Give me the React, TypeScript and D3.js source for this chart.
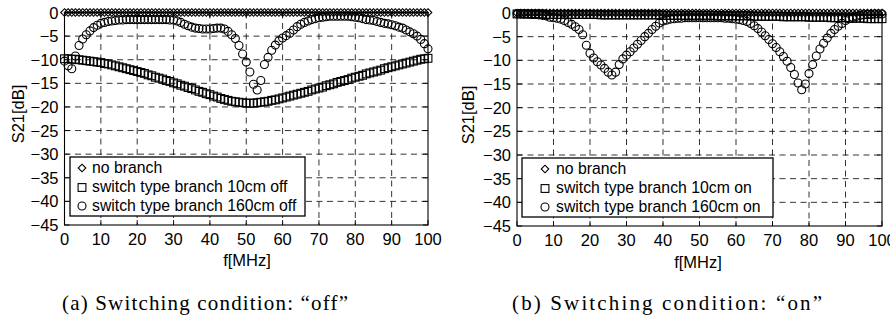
import React from 'react';
import * as d3 from 'd3';

// ---------- data ----------
const FREQ = d3.range(0, 101); // MHz, 1 MHz sampling grid
const X_TICKS = [0, 10, 20, 30, 40, 50, 60, 70, 80, 90, 100];
const Y_TICKS = [0, -5, -10, -15, -20, -25, -30, -35, -40, -45];

// (a) switching condition "off"
const A_NO_BRANCH = [
  0, 0, 0, 0, 0, 0, 0, 0, 0, 0,
  0, 0, 0, 0, 0, 0, 0, 0, 0, 0,
  0, 0, 0, 0, 0, 0, 0, 0, 0, 0,
  0, 0, 0, 0, 0, 0, 0, 0, 0, 0,
  0, 0, 0, 0, 0, 0, 0, 0, 0, 0,
  0, 0, 0, 0, 0, 0, 0, 0, 0, 0,
  0, 0, 0, 0, 0, 0, 0, 0, 0, 0,
  0, 0, 0, 0, 0, 0, 0, 0, 0, 0,
  0, 0, 0, 0, 0, 0, 0, 0, 0, 0,
  0, 0, 0, 0, 0, 0, 0, 0, 0, 0,
  0,
];
const A_10CM_OFF = [
  -9.8, -9.8, -9.9, -9.9, -10.0, -10.1, -10.2, -10.3, -10.4, -10.5,
  -10.6, -10.8, -10.9, -11.1, -11.3, -11.5, -11.7, -11.9, -12.1, -12.3,
  -12.5, -12.7, -12.9, -13.2, -13.4, -13.7, -13.9, -14.1, -14.4, -14.6,
  -14.9, -15.1, -15.4, -15.6, -15.9, -16.1, -16.4, -16.7, -16.9, -17.2,
  -17.4, -17.7, -17.9, -18.2, -18.4, -18.6, -18.8, -18.9, -19.0, -19.1,
  -19.2, -19.2, -19.2, -19.1, -19.0, -18.9, -18.8, -18.6, -18.5, -18.3,
  -18.1, -17.9, -17.7, -17.5, -17.3, -17.1, -16.9, -16.7, -16.4, -16.2,
  -16.0, -15.8, -15.5, -15.3, -15.1, -14.8, -14.6, -14.4, -14.2, -13.9,
  -13.7, -13.5, -13.3, -13.0, -12.8, -12.6, -12.4, -12.2, -11.9, -11.7,
  -11.5, -11.3, -11.1, -10.9, -10.7, -10.5, -10.3, -10.1, -9.9, -9.8,
  -9.7,
];
const A_160CM_OFF = [
  -10.3, -11.3, -11.9, -9.2, -7.0, -5.6, -4.7, -3.9, -3.2, -2.7,
  -2.3, -2.1, -1.9, -1.8, -1.7, -1.6, -1.6, -1.5, -1.5, -1.5,
  -1.5, -1.5, -1.5, -1.5, -1.5, -1.5, -1.5, -1.5, -1.5, -1.6,
  -1.6, -1.8, -2.1, -2.5, -2.8, -3.1, -3.3, -3.4, -3.5, -3.5,
  -3.5, -3.4, -3.3, -3.3, -3.5, -4.0, -4.7, -5.5, -7.0, -8.8,
  -10.5, -12.6, -15.2, -16.4, -14.4, -11.0, -9.5, -8.0, -6.9, -6.0,
  -5.4, -4.9, -4.4, -3.7, -3.0, -2.5, -2.1, -1.8, -1.5, -1.3,
  -1.1, -1.0, -0.9, -0.8, -0.8, -0.8, -0.8, -0.8, -0.8, -0.9,
  -1.0, -1.1, -1.3, -1.5, -1.6, -1.7, -1.9, -2.1, -2.3, -2.4,
  -2.6, -2.8, -3.1, -3.3, -3.7, -4.1, -4.5, -5.0, -5.7, -6.6,
  -7.7,
];

// (b) switching condition "on"
const B_NO_BRANCH = [
  0, 0, 0, 0, 0, 0, 0, 0, 0, 0,
  0, 0, 0, 0, 0, 0, 0, 0, 0, 0,
  0, 0, 0, 0, 0, 0, 0, 0, 0, 0,
  0, 0, 0, 0, 0, 0, 0, 0, 0, 0,
  0, 0, 0, 0, 0, 0, 0, 0, 0, 0,
  0, 0, 0, 0, 0, 0, 0, 0, 0, 0,
  0, 0, 0, 0, 0, 0, 0, 0, 0, 0,
  0, 0, 0, 0, 0, 0, 0, 0, 0, 0,
  0, 0, 0, 0, 0, 0, 0, 0, 0, 0,
  0, 0, 0, 0, 0, 0, 0, 0, 0, 0,
  0,
];
const B_10CM_ON = [
  -0.2, -0.2, -0.2, -0.2, -0.2, -0.2, -0.2, -0.2, -0.3, -0.3,
  -0.3, -0.3, -0.3, -0.3, -0.3, -0.3, -0.3, -0.3, -0.3, -0.3,
  -0.3, -0.3, -0.3, -0.4, -0.4, -0.4, -0.4, -0.4, -0.4, -0.4,
  -0.4, -0.4, -0.4, -0.4, -0.4, -0.4, -0.4, -0.4, -0.4, -0.4,
  -0.5, -0.5, -0.5, -0.5, -0.5, -0.5, -0.5, -0.5, -0.5, -0.5,
  -0.5, -0.5, -0.5, -0.5, -0.5, -0.6, -0.6, -0.6, -0.6, -0.6,
  -0.6, -0.6, -0.6, -0.6, -0.6, -0.7, -0.7, -0.7, -0.7, -0.7,
  -0.7, -0.7, -0.7, -0.8, -0.8, -0.8, -0.8, -0.8, -0.8, -0.8,
  -0.9, -0.9, -0.9, -0.9, -0.9, -0.9, -1.0, -1.0, -1.0, -1.0,
  -1.0, -1.1, -1.1, -1.1, -1.1, -1.1, -1.2, -1.2, -1.2, -1.2,
  -1.2,
];
const B_160CM_ON = [
  -0.1, -0.1, -0.2, -0.2, -0.3, -0.3, -0.4, -0.5, -0.6, -0.9,
  -1.0, -1.1, -1.3, -1.6, -2.0, -2.4, -2.9, -3.5, -4.6, -6.8,
  -8.5, -9.5, -10.3, -11.0, -11.7, -12.5, -13.1, -12.5, -10.9, -9.7,
  -8.9, -8.2, -7.4, -6.6, -5.8, -5.0, -4.3, -3.5, -2.8, -2.1,
  -1.7, -1.5, -1.3, -1.2, -1.1, -1.1, -1.0, -1.0, -1.0, -1.0,
  -1.0, -1.0, -1.0, -1.0, -1.0, -1.0, -1.0, -1.1, -1.1, -1.2,
  -1.3, -1.4, -1.6, -1.8, -2.2, -2.7, -3.3, -4.0, -4.8, -5.6,
  -6.5, -7.3, -8.2, -9.2, -10.2, -11.5, -13.0, -14.8, -16.2, -15.0,
  -12.8, -10.9, -9.1, -7.6, -6.4, -5.3, -4.3, -3.5, -2.8, -2.2,
  -1.6, -1.2, -0.9, -0.7, -0.5, -0.4, -0.3, -0.3, -0.2, -0.2,
  -0.2,
];

const LEGEND_A = ['no branch', 'switch type branch 10cm off', 'switch type branch 160cm off'];
const LEGEND_B = ['no branch', 'switch type branch 10cm on', 'switch type branch 160cm on'];
const CAPTIONS = ['(a) Switching condition: \u201Coff\u201D', '(b) Switching condition: \u201Con\u201D'];
const X_LABEL = 'f[MHz]';
const Y_LABEL = 'S21[dB]';

// ---------- layout ----------
const W = 890;
const H = 316;
const SANS = 'Liberation Sans, Arial, Helvetica, sans-serif';
const SERIF = 'Liberation Serif, Times New Roman, serif';

const PANELS = [
  {
    x0: 64.5, x1: 428, y0: 12.5, y1: 225,
    series: [A_NO_BRANCH, A_10CM_OFF, A_160CM_OFF],
    legend: LEGEND_A, lx: 70, ly: 157, lw: 235, lh: 59, mOff: 12, tOff: 22,
    caption: CAPTIONS[0], capX: 205, capW: 286,
    yLabX: 18, yLabY: 114, xLabX: 247, xLabY: 260,
  },
  {
    x0: 517, x1: 882, y0: 13, y1: 226,
    series: [B_NO_BRANCH, B_10CM_ON, B_160CM_ON],
    legend: LEGEND_B, lx: 522, ly: 158, lw: 251, lh: 59, mOff: 23, tOff: 34,
    caption: CAPTIONS[1], capX: 667, capW: 310,
    yLabX: 468, yLabY: 115, xLabX: 698, xLabY: 262,
  },
];

const SW = 1.1;

function Marker({ kind, x, y }: { kind: number; x: number; y: number }) {
  if (kind === 0) {
    const r = 3.8;
    return (
      <path
        d={`M${x},${y - r}L${x + r},${y}L${x},${y + r}L${x - r},${y}Z`}
        fill="none" stroke="#000" strokeWidth={SW}
      />
    );
  }
  if (kind === 1) {
    const h = 3.9;
    return <rect x={x - h} y={y - h} width={2 * h} height={2 * h} fill="none" stroke="#000" strokeWidth={SW} />;
  }
  return <circle cx={x} cy={y} r={4} fill="none" stroke="#000" strokeWidth={SW} />;
}

function Panel({ p }: { p: (typeof PANELS)[number] }) {
  const x = d3.scaleLinear().domain([0, 100]).range([p.x0, p.x1]);
  const y = d3.scaleLinear().domain([0, -45]).range([p.y0, p.y1]);
  const dash = '6,4.5';
  const tick = 5;
  const rowY = [p.ly + 10, p.ly + 29.5, p.ly + 48];
  return (
    <g>
      {/* grid */}
      {X_TICKS.slice(1, -1).map((t) => (
        <line key={'gx' + t} x1={x(t)} x2={x(t)} y1={p.y0} y2={p.y1} stroke="#000" strokeWidth={0.8} strokeDasharray={dash} />
      ))}
      {Y_TICKS.slice(1, -1).map((t) => (
        <line key={'gy' + t} x1={p.x0} x2={p.x1} y1={y(t)} y2={y(t)} stroke="#000" strokeWidth={0.8} strokeDasharray={dash} />
      ))}
      {/* ticks */}
      {X_TICKS.map((t) => (
        <g key={'tx' + t}>
          <line x1={x(t)} x2={x(t)} y1={p.y1} y2={p.y1 - tick} stroke="#000" strokeWidth={0.9} />
          <line x1={x(t)} x2={x(t)} y1={p.y0} y2={p.y0 + tick} stroke="#000" strokeWidth={0.9} />
        </g>
      ))}
      {Y_TICKS.map((t) => (
        <g key={'ty' + t}>
          <line x1={p.x0} x2={p.x0 + tick} y1={y(t)} y2={y(t)} stroke="#000" strokeWidth={0.9} />
          <line x1={p.x1} x2={p.x1 - tick} y1={y(t)} y2={y(t)} stroke="#000" strokeWidth={0.9} />
        </g>
      ))}
      {/* data */}
      {p.series.map((s, si) => (
        <g key={'s' + si}>
          {s.map((v, i) => (
            <Marker key={i} kind={si} x={x(FREQ[i])} y={y(v)} />
          ))}
        </g>
      ))}
      {/* legend */}
      <rect x={p.lx} y={p.ly} width={p.lw} height={p.lh} fill="#fff" stroke="#000" strokeWidth={1.3} />
      {p.legend.map((lab, i) => (
        <g key={'l' + i}>
          <Marker kind={i} x={p.lx + p.mOff} y={rowY[i] + 1} />
          <text x={p.lx + p.tOff} y={rowY[i]} dominantBaseline="central" fontFamily={SANS} fontSize={15.8} fill="#000">
            {lab}
          </text>
        </g>
      ))}
      {/* box */}
      <rect x={p.x0} y={p.y0} width={p.x1 - p.x0} height={p.y1 - p.y0} fill="none" stroke="#000" strokeWidth={1.1} />
      {/* tick labels */}
      {X_TICKS.map((t) => (
        <text key={'lx' + t} x={x(t)} y={p.y1 + 14} textAnchor="middle" dominantBaseline="central" fontFamily={SANS} fontSize={16.5} fill="#000">
          {t}
        </text>
      ))}
      {Y_TICKS.map((t) => (
        <text key={'ly' + t} x={p.x0 - 6} y={y(t)} textAnchor="end" dominantBaseline="central" fontFamily={SANS} fontSize={16.5} fill="#000">
          {t === 0 ? '0' : '\u2212' + Math.abs(t)}
        </text>
      ))}
      {/* axis labels */}
      <text x={p.xLabX} y={p.xLabY} textAnchor="middle" dominantBaseline="central" fontFamily={SANS} fontSize={16.5} fill="#000">
        {X_LABEL}
      </text>
      <text
        transform={`translate(${p.yLabX},${p.yLabY}) rotate(-90)`}
        textAnchor="middle" dominantBaseline="central" fontFamily={SANS} fontSize={16.5} fill="#000"
      >
        {Y_LABEL}
      </text>
      {/* caption */}
      <text
        x={p.capX - p.capW / 2} y={310} fontFamily={SERIF} fontSize={21} fill="#000"
        textLength={p.capW} lengthAdjust="spacing"
      >
        {p.caption}
      </text>
    </g>
  );
}

export default function App() {
  return (
    <svg width={W} height={H} viewBox={`0 0 ${W} ${H}`} style={{ position: 'absolute', left: 0, top: 0, background: '#fff' }}>
      <rect x={0} y={0} width={W} height={H} fill="#fff" />
      {PANELS.map((p, i) => (
        <Panel key={i} p={p} />
      ))}
    </svg>
  );
}
